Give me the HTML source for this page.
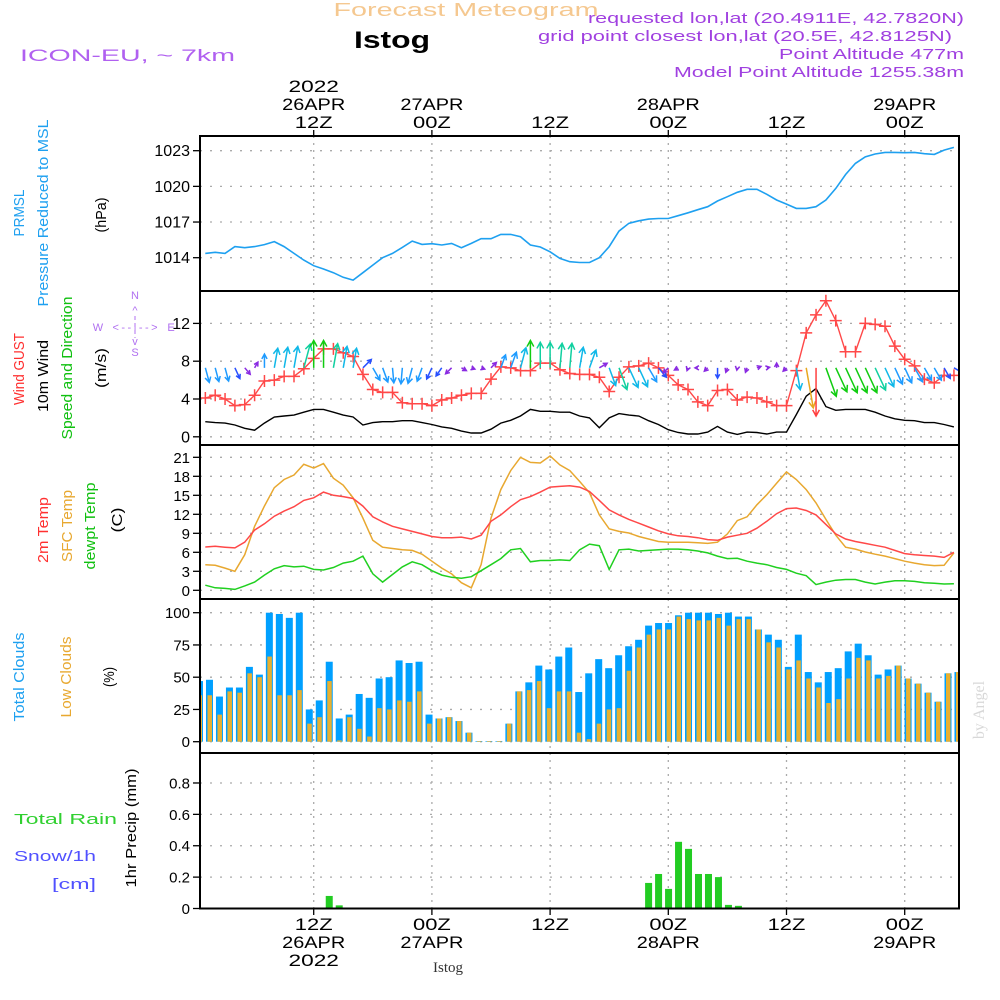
<!DOCTYPE html>
<html><head><meta charset="utf-8"><style>
html,body{margin:0;padding:0;background:#fff;}
svg{display:block;font-family:"Liberation Sans",sans-serif;}
</style></head><body>
<svg id="chart" width="1000" height="1000" viewBox="0 0 1000 1000" xmlns="http://www.w3.org/2000/svg">
<g>
<text x="466" y="16" text-anchor="middle" fill="#f5c890" font-size="18" textLength="265" lengthAdjust="spacingAndGlyphs">Forecast Meteogram</text>
<text x="392" y="48" text-anchor="middle" fill="#000" font-size="24" font-weight="bold" textLength="76" lengthAdjust="spacingAndGlyphs">Istog</text>
<text x="20" y="61" fill="#b060f0" font-size="17" textLength="215" lengthAdjust="spacingAndGlyphs">ICON-EU, ~ 7km</text>
<text x="964" y="23" text-anchor="end" fill="#a040e0" font-size="15" textLength="376" lengthAdjust="spacingAndGlyphs">requested lon,lat (20.4911E, 42.7820N)</text>
<text x="952" y="41" text-anchor="end" fill="#a040e0" font-size="15" textLength="414" lengthAdjust="spacingAndGlyphs">grid point closest lon,lat (20.5E, 42.8125N)</text>
<text x="964" y="59" text-anchor="end" fill="#a040e0" font-size="15" textLength="185" lengthAdjust="spacingAndGlyphs">Point Altitude 477m</text>
<text x="964" y="77" text-anchor="end" fill="#a040e0" font-size="15" textLength="290" lengthAdjust="spacingAndGlyphs">Model Point Altitude 1255.38m</text>
</g>
<g id="plots"></g>
<g font-size="15">
<text transform="translate(24,213) rotate(-90)" text-anchor="middle" fill="#1ea0f0" textLength="47" lengthAdjust="spacingAndGlyphs">PRMSL</text>
<text transform="translate(48,213) rotate(-90)" text-anchor="middle" fill="#1ea0f0" textLength="187" lengthAdjust="spacingAndGlyphs">Pressure Reduced to MSL</text>
<text transform="translate(106,215) rotate(-90)" text-anchor="middle" fill="#000" textLength="35" lengthAdjust="spacingAndGlyphs">(hPa)</text>
<text transform="translate(24,369) rotate(-90)" text-anchor="middle" fill="#ff3030" textLength="72" lengthAdjust="spacingAndGlyphs">Wind GUST</text>
<text transform="translate(48,376) rotate(-90)" text-anchor="middle" fill="#000" textLength="72" lengthAdjust="spacingAndGlyphs">10m Wind</text>
<text transform="translate(72,368) rotate(-90)" text-anchor="middle" fill="#10c010" textLength="143" lengthAdjust="spacingAndGlyphs">Speed and Direction</text>
<text transform="translate(106,368) rotate(-90)" text-anchor="middle" fill="#000" textLength="40" lengthAdjust="spacingAndGlyphs">(m/s)</text>
<g fill="#b070f0" font-size="11" text-anchor="middle">
<text x="135" y="299">N</text><text x="135" y="356">S</text><text x="98" y="331">W</text><text x="171" y="331">E</text>
<text x="135" y="314">^</text><text x="135" y="345">v</text>
<text x="135" y="331" textLength="45" lengthAdjust="spacing">&lt;--|--&gt;</text>
<line x1="135" y1="316" x2="135" y2="338" stroke="#b070f0" stroke-dasharray="4 3"/>
</g>
<text transform="translate(48,530) rotate(-90)" text-anchor="middle" fill="#ff3030" textLength="66" lengthAdjust="spacingAndGlyphs">2m Temp</text>
<text transform="translate(72,526) rotate(-90)" text-anchor="middle" fill="#e8a830" textLength="72" lengthAdjust="spacingAndGlyphs">SFC Temp</text>
<text transform="translate(95,526) rotate(-90)" text-anchor="middle" fill="#10c010" textLength="87" lengthAdjust="spacingAndGlyphs">dewpt Temp</text>
<text transform="translate(122,520) rotate(-90)" text-anchor="middle" fill="#000" textLength="25" lengthAdjust="spacingAndGlyphs">(C)</text>
<text transform="translate(24,677) rotate(-90)" text-anchor="middle" fill="#1ea0f0" textLength="89" lengthAdjust="spacingAndGlyphs">Total Clouds</text>
<text transform="translate(71,677) rotate(-90)" text-anchor="middle" fill="#e8a830" textLength="81" lengthAdjust="spacingAndGlyphs">Low Clouds</text>
<text transform="translate(114,677) rotate(-90)" text-anchor="middle" fill="#000" textLength="20" lengthAdjust="spacingAndGlyphs">(%)</text>
<text x="14" y="824" fill="#30d030" textLength="103" lengthAdjust="spacingAndGlyphs">Total   Rain</text>
<text x="14" y="861" fill="#5050ff" textLength="82" lengthAdjust="spacingAndGlyphs">Snow/1h</text>
<text x="52" y="889" fill="#5050ff" textLength="44" lengthAdjust="spacingAndGlyphs">[cm]</text>
<text transform="translate(136,828) rotate(-90)" text-anchor="middle" fill="#000" textLength="119" lengthAdjust="spacingAndGlyphs">1hr Precip (mm)</text>
</g>
<text x="448" y="972" text-anchor="middle" fill="#333" font-size="15" font-family="Liberation Serif,serif">Istog</text>
<text transform="translate(984,710) rotate(-90)" text-anchor="middle" fill="#d8d8d8" font-size="16" font-family="Liberation Serif,serif">by Angel</text>
</svg>
<script>
// ---- data (hourly, h = 1..77 from 26APR 00Z) ----
const pressure = [1014.36,1014.45,1014.36,1014.93,1014.84,1014.93,1015.1,1015.35,1014.93,1014.36,1013.8,1013.33,1013.05,1012.74,1012.35,1012.12,1012.74,1013.38,1014.0,1014.36,1014.87,1015.4,1015.12,1015.18,1015.07,1015.2,1014.84,1015.2,1015.6,1015.6,1015.96,1015.96,1015.77,1015.07,1014.9,1014.5,1013.94,1013.66,1013.6,1013.6,1014.0,1014.93,1016.24,1016.89,1017.1,1017.25,1017.3,1017.3,1017.53,1017.78,1018.04,1018.29,1018.77,1019.13,1019.5,1019.75,1019.75,1019.33,1018.85,1018.51,1018.15,1018.15,1018.29,1018.85,1019.83,1021.0,1021.93,1022.49,1022.72,1022.86,1022.86,1022.83,1022.86,1022.75,1022.69,1023.05,1023.28];
const gust = [4.1,4.4,4.0,3.3,3.4,4.4,5.9,6.0,6.4,6.4,7.2,8.3,9.3,9.3,8.9,8.5,6.6,5.0,4.7,4.7,3.6,3.5,3.5,3.3,3.9,4.1,4.4,4.6,4.6,6.1,7.4,7.3,7.0,7.0,7.8,7.8,7.1,6.7,6.6,6.6,6.3,4.8,6.3,7.4,7.5,7.8,7.3,6.5,5.5,5.0,3.7,3.3,4.9,5.0,3.9,4.2,4.1,3.7,3.3,3.3,7.0,11.0,12.9,14.4,12.3,9.0,9.0,12.0,11.9,11.7,9.6,8.2,7.5,6.1,5.7,6.5,6.5];
const wind10 = [1.6,1.5,1.45,1.25,0.9,0.7,1.45,2.1,2.2,2.3,2.6,2.9,2.9,2.6,2.3,2.1,1.25,1.5,1.6,1.6,1.7,1.7,1.5,1.3,1.05,0.9,0.6,0.4,0.4,0.8,1.45,1.75,2.2,2.9,2.7,2.7,2.6,2.6,2.2,2.0,0.95,2.0,2.45,2.3,2.2,1.7,1.3,0.75,0.45,0.3,0.3,0.5,1.1,0.5,0.25,0.5,0.45,0.3,0.5,0.5,2.35,4.3,5.1,3.2,2.8,2.9,2.9,2.9,2.6,2.2,1.9,1.75,1.7,1.5,1.5,1.3,1.05];
const windDir = [165,165,165,155,140,30,0,10,10,10,15,0,0,10,10,10,45,150,160,175,185,195,200,205,215,225,120,110,110,45,20,20,15,0,0,0,5,5,10,20,60,160,160,155,155,150,140,225,240,200,270,225,180,200,190,200,70,80,0,225,170,170,180,160,155,155,155,155,155,155,155,155,150,150,150,150,120];
const temp2m = [6.84,6.95,6.8,6.7,7.6,9.5,10.5,11.7,12.5,13.2,14.2,14.6,15.5,15.0,14.8,14.5,13.3,11.6,10.8,10.1,9.7,9.3,8.9,8.5,8.3,8.3,8.4,8.1,8.7,10.9,11.9,13.2,14.3,14.8,15.5,16.3,16.4,16.5,16.3,15.6,14.2,12.7,11.9,11.2,10.6,10.0,9.4,8.9,8.6,8.5,8.3,8.0,7.9,8.4,8.7,9.0,9.8,10.9,12.1,12.9,13.0,12.6,11.9,10.4,8.9,8.1,7.7,7.4,7.1,6.8,6.3,5.8,5.6,5.5,5.4,5.2,6.0];
const tempSfc = [4.05,3.95,3.5,3.0,5.6,10.1,13.3,16.2,17.5,18.2,19.9,19.3,20.0,17.7,16.6,14.6,11.4,7.9,6.8,6.6,6.4,6.3,5.7,4.6,3.5,2.6,1.2,0.4,4.05,11.4,15.9,18.9,21.0,20.2,20.1,21.2,19.8,18.9,17.2,15.4,11.9,9.7,9.3,9.05,8.5,8.1,7.7,7.6,7.6,7.6,7.5,7.4,7.6,8.9,11.0,11.6,13.5,15.1,16.9,18.7,17.5,15.9,13.8,11.2,8.7,6.8,6.5,6.05,5.7,5.4,5.0,4.6,4.3,4.05,3.9,3.95,5.9];
const dewpt = [0.8,0.4,0.3,0.15,0.7,1.3,2.4,3.4,3.9,3.7,3.8,3.3,3.2,3.6,4.3,4.6,5.4,2.6,1.3,2.5,3.7,4.5,4.05,3.1,2.4,2.05,1.9,2.15,3.1,4.05,5.0,6.4,6.6,4.5,4.7,4.7,4.8,4.7,6.4,7.3,7.05,3.3,6.4,6.5,6.2,6.3,6.4,6.5,6.5,6.4,6.2,5.9,5.4,5.0,5.05,4.6,4.3,4.05,3.6,3.3,2.7,2.3,0.9,1.3,1.6,1.7,1.7,1.3,1.0,1.3,1.5,1.5,1.4,1.2,1.1,1.0,1.05];
// bars, index 0..76
const totalClouds = [47,48,35,42,42,58,52,100,99,96,100,25,32,62,18,21,37,34,49,50,63,61,62,21,18,19,16,7,0.5,0.5,0.5,14,39,46,59,56,66,73,38.5,53,64,57,67,74,79,90,92,92,98,100,100,100,99,100,97,97,87,83,79,58,83,54,46,54,57,70,76,67,52,56,59,49,45,38,31,53,54];
const lowClouds = [36,36,21,39,38,53,50,66,36,36,40,14,19,47,1,19,10,4,26,25,32,31,39,14,18,19,16,7,0.5,0.5,0.5,14,39,40,47,26,39,39,7,2,14,25,26,55,73,83,87,87,97,95,94,94,96,90,95,95,87,77,73,56,63,49,42,30,33,49,65,63,49,51,59,49,45,38,31,53,54];
const precip = [0,0,0,0,0,0,0,0,0,0,0,0,0,0.08,0.02,0,0,0,0,0,0,0,0,0,0,0,0,0,0,0,0,0,0,0,0,0,0,0,0,0,0,0,0,0,0,0.163,0.22,0.125,0.425,0.38,0.22,0.22,0.2,0.023,0.017,0,0,0,0,0,0,0,0,0,0,0,0,0,0,0,0,0,0,0,0,0,0];
const pressTicks = [1014,1017,1020,1023];
const windTicks = [0,4,8,12];
const tempTicks = [0,3,6,9,12,15,18,21];
const cloudTicks = [0,25,50,75,100];
const precipTicks = [0,0.2,0.4,0.6,0.8];
const timeTickHours = [12,24,36,48,60,72];
const topLabels = [["2022","26APR","12Z"],["","27APR","00Z"],["","","12Z"],["","28APR","00Z"],["","","12Z"],["","29APR","00Z"]];
const bottomLabels = [["12Z","26APR","2022"],["00Z","27APR",""],["12Z","",""],["00Z","28APR",""],["12Z","",""],["00Z","29APR",""]];

// ---- axes ----
const L=200,R=959;
const xH = h => 668.3 + (h-48)*9.85;
const xB = i => 196 + i*9.98;
const yP = v => 257.7 - (v-1014)*11.889;
const yW = v => 436.8 - v*9.45;
const yT = v => 590.3 - v*6.333;
const yC = v => 741.7 - v*1.29;
const yR = v => 908.5 - v*156.9;
const panels=[[136,291],[291,445],[445,599],[599,753],[753,908.5]];

const NS="http://www.w3.org/2000/svg";
const root=document.getElementById('plots');
function el(tag,attrs,parent){const e=document.createElementNS(NS,tag);for(const k in attrs)e.setAttribute(k,attrs[k]);(parent||root).appendChild(e);return e;}

const defs=el('defs',{});
const cp=el('clipPath',{id:'plotclip'},defs);
el('rect',{x:L,y:136,width:R-L,height:773},cp);

const grid=el('g',{});


panels.forEach(p=>{timeTickHours.forEach(h=>{el('line',{x1:xH(h),x2:xH(h),y1:p[0],y2:p[1],stroke:'#aaa','stroke-dasharray':'2 5','stroke-width':1.3},grid);});});
function hgrid(ticks,fy){ticks.forEach(t=>{el('line',{x1:L,x2:R,y1:fy(t),y2:fy(t),stroke:'#aaa','stroke-dasharray':'2 8','stroke-width':1.3},grid);});}
hgrid(pressTicks,yP);hgrid(windTicks,yW);hgrid(tempTicks,yT);hgrid(cloudTicks,yC);hgrid(precipTicks,yR);

const plot=el('g',{'clip-path':'url(#plotclip)'});

function linePath(arr,fy){return arr.map((v,i)=>(i?'L':'M')+xH(i+1).toFixed(1)+','+fy(v).toFixed(1)).join('');}
const pl=el('path',{d:linePath(pressure,yP),fill:'none',stroke:'#1ea0f0','stroke-width':1.6},plot);



const wl=el('path',{d:linePath(wind10,yW),fill:'none',stroke:'#000','stroke-width':1.4},plot);


const gl=el('path',{d:linePath(gust,yW),fill:'none',stroke:'#ff4848','stroke-width':1.4},plot);


gust.forEach((v,i)=>{const x=xH(i+1),y=yW(v);
 const m=el('path',{d:`M${x-6},${y}H${x+6}M${x},${y-6}V${y+6}`,stroke:'#ff4848','stroke-width':1.5},plot);
 
 });
function spdColor(s){if(s<1.0)return '#8a2be2';if(s<1.4)return '#2850ff';if(s<2.0)return '#1e9bff';if(s<2.4)return '#10b8e8';if(s<2.8)return '#10d0a0';if(s<3.6)return '#10cc10';if(s<4.6)return '#e8a820';return '#ff4040';}
const anchorY=yW(7.3);
wind10.forEach((s,i)=>{const a=windDir[i]*Math.PI/180,len=s*9.45;const x0=xH(i+1),y0=anchorY;
 const x1=x0+Math.sin(a)*len,y1=y0-Math.cos(a)*len;const c=spdColor(s);
 const hs=Math.min(7,Math.max(4.5,len*0.4));
 const b1=a+Math.PI-0.5,b2=a+Math.PI+0.5;
 const d=`M${x0},${y0}L${x1},${y1}M${x1+Math.sin(b1)*hs},${y1-Math.cos(b1)*hs}L${x1},${y1}L${x1+Math.sin(b2)*hs},${y1-Math.cos(b2)*hs}`;
 const ar=el('path',{d:d,fill:'none',stroke:c,'stroke-width':1.5},plot);
 
 });

[[tempSfc,'#e8a830','sfc-temp-line'],[temp2m,'#ff4848','temp-2m-line'],[dewpt,'#20d020','dewpoint-line']].forEach(([arr,c,n])=>{
 const p=el('path',{d:linePath(arr,yT),fill:'none',stroke:c,'stroke-width':1.5},plot);
 
 });

totalClouds.forEach((v,i)=>{const x=xB(i);
 const b=el('rect',{x:x,y:yC(v),width:7,height:yC(0)-yC(v),fill:'#00a0ff'},plot);
 
 
 const lv=lowClouds[i];
 const o=el('rect',{x:x+1.5,y:yC(lv),width:4.5,height:yC(0)-yC(lv),fill:'#e8b030'},plot);
 
 });

precip.forEach((v,i)=>{if(v<=0)return;const x=xB(i);
 const b=el('rect',{x:x,y:yR(v),width:7,height:yR(0)-yR(v),fill:'#22cc22'},plot);
 
 });

const fr=el('g',{});


el('rect',{x:L,y:136,width:R-L,height:772.5,fill:'none',stroke:'#000','stroke-width':2},fr);
[291,445,599,753].forEach(y=>el('line',{x1:L,x2:R,y1:y,y2:y,stroke:'#000','stroke-width':2},fr));

const yl=el('g',{'text-anchor':'end',fill:'#000'});


function yticks(ticks,fy,fmt,fs){ticks.forEach(t=>{const y=fy(t);
 el('line',{x1:193,x2:L,y1:y,y2:y,stroke:'#000','stroke-width':1.3},yl);
 const tx=el('text',{x:190,y:y+5.5,'font-size':fs},yl);tx.textContent=fmt(t);});}
yticks(pressTicks,yP,t=>String(t),16);
yticks(windTicks,yW,t=>String(t),16);
yticks(tempTicks,yT,t=>String(t),15);
yticks(cloudTicks,yC,t=>String(t),15);
yticks(precipTicks,yR,t=>t===0?'0':t.toFixed(1),15);

const tl=el('g',{'font-size':17,'text-anchor':'middle',fill:'#000'});


timeTickHours.forEach((h,k)=>{const x=xH(h);
 el('line',{x1:x,x2:x,y1:130,y2:136,stroke:'#000','stroke-width':1.3},tl);
 el('line',{x1:x,x2:x,y1:908,y2:915,stroke:'#000','stroke-width':1.3},tl);
 topLabels[k].forEach((s,j)=>{if(!s)return;const t=el('text',{x:x,y:92+j*18,textLength:s.length*12.6,lengthAdjust:'spacingAndGlyphs'},tl);t.textContent=s;});
 bottomLabels[k].forEach((s,j)=>{if(!s)return;const t=el('text',{x:x,y:930+j*18,textLength:s.length*12.6,lengthAdjust:'spacingAndGlyphs'},tl);t.textContent=s;});});
</script>
</body></html>
